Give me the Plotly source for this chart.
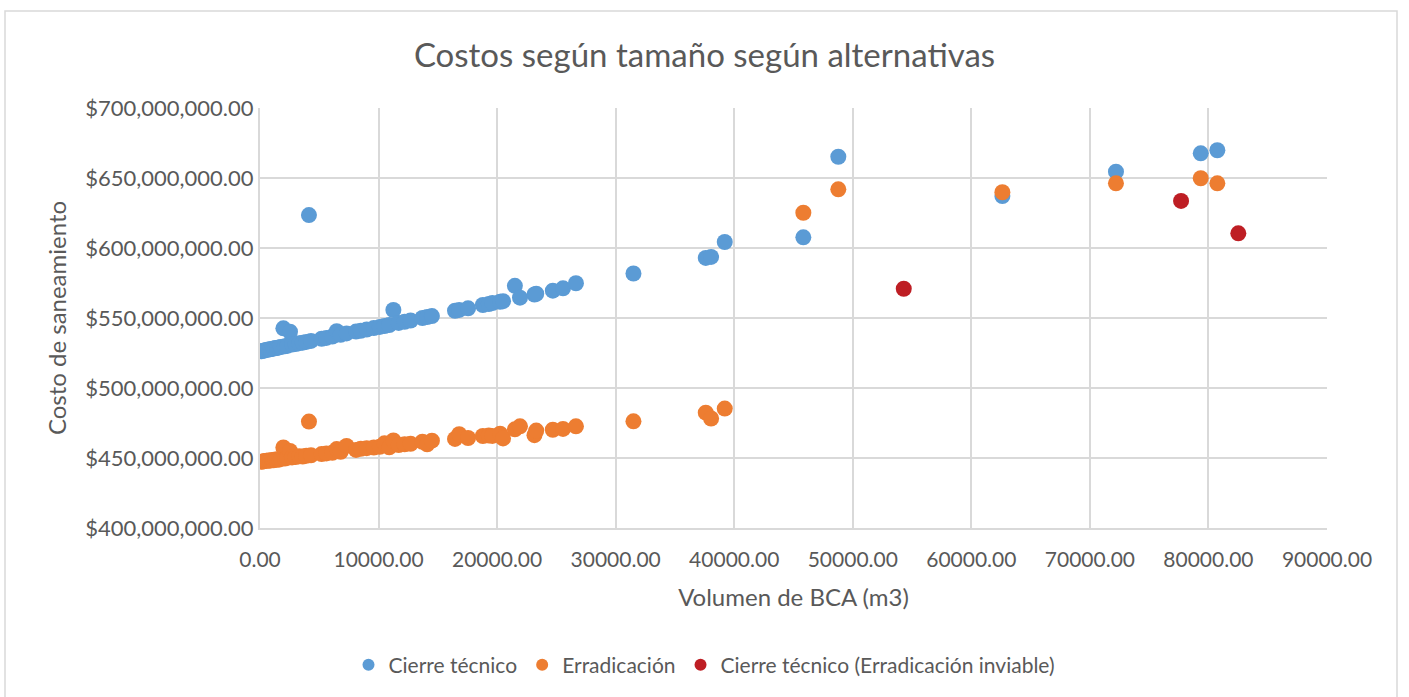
import numpy as np
import plotly.graph_objects as go

# Volumen de BCA (m3) de cada sitio
volumen = [150, 280, 420, 560, 700, 850, 1000, 1150, 1300, 1450, 1600, 1750,
           1970, 2100, 2300, 2530, 2700, 3000, 3300, 3600, 3900, 4130, 4300,
           5200, 5600, 6100, 6470, 6800, 7300, 8100, 8500, 9000, 9600, 10100,
           10500, 10900, 11250, 11700, 12200, 12700, 13700, 14100, 14500,
           16450, 16800, 17550, 18800, 19300, 19600, 20250, 20500, 21500,
           21930, 23150, 23300, 24700, 25560, 26650, 31500, 37600, 38050,
           39200, 45830, 48780, 62620, 72200, 79350, 80750]

# Costo de saneamiento, millones de $
costo_cierre = [526.3, 526.6, 527.0, 527.2, 527.5, 527.6, 527.9, 528.2, 528.5,
                528.6, 529.0, 529.3, 542.6, 529.8, 530.1, 540.2, 531.0, 531.4,
                532.0, 532.4, 532.9, 623.5, 533.6, 535.2, 535.8, 536.8, 540.6,
                538.0, 539.0, 540.3, 540.9, 541.8, 542.8, 543.6, 544.3, 545.0,
                555.7, 546.5, 547.3, 548.2, 550.0, 550.7, 551.4, 555.2, 555.8,
                556.9, 559.3, 560.0, 560.7, 561.6, 562.0, 573.0, 564.5, 566.8,
                567.3, 569.5, 571.2, 574.8, 581.8, 592.9, 593.6, 604.3, 607.6,
                665.2, 637.1, 654.5, 667.6, 669.8]

costo_erradicacion = [447.3, 447.6, 447.9, 448.0, 448.3, 448.1, 448.6, 448.4,
                      448.9, 449.0, 448.8, 449.4, 457.5, 449.6, 450.1, 455.0,
                      450.4, 450.7, 451.2, 451.0, 451.6, 476.0, 451.9, 452.8,
                      453.3, 453.7, 456.4, 454.4, 458.6, 455.8, 456.6, 457.0,
                      457.5, 458.0, 460.5, 457.6, 462.5, 459.3, 459.8, 460.2,
                      461.6, 459.8, 462.4, 463.6, 467.0, 464.3, 465.7, 466.0,
                      465.8, 467.3, 464.0, 470.5, 472.6, 466.3, 469.6, 470.2,
                      470.8, 472.6, 476.2, 482.4, 478.2, 485.3, 625.2, 641.9,
                      639.8, 646.2, 649.8, 646.2]

# Sitios donde la erradicación es inviable
volumen_inviable = [54300, 77690, 82520]
costo_inviable = [570.9, 633.6, 610.5]

FONT = "Lato"
GRIS = "#595959"
GRID = "#d9d9d9"

fig = go.Figure()
series = [
    ("Cierre técnico", volumen, costo_cierre, "#5B9BD5"),
    ("Erradicación", volumen, costo_erradicacion, "#ED7D31"),
    ("Cierre técnico (Erradicación inviable)", volumen_inviable, costo_inviable, "#BE1E24"),
]
for nombre, xs, ys, color in series:
    fig.add_trace(go.Scatter(
        x=xs, y=np.array(ys) * 1e6, mode="markers", name=nombre,
        marker=dict(size=16, color=color, line=dict(width=0)),
    ))

# Plot area in pixels: x 260-1327, y 108-528
W, H = 1409, 697
L, R, T, B = 260, 1327, 108, 528

def px_x(p):
    return (p - L) / (R - L)

def px_y(p):
    return (B - p) / (B - T)

fig.update_layout(
    width=W, height=H,
    margin=dict(l=L, r=W - R, t=T, b=H - B, autoexpand=False),
    paper_bgcolor="white", plot_bgcolor="white",
    font=dict(family=FONT, color=GRIS, size=21),
    title=dict(text="Costos según tamaño según alternativas",
               x=0.5, xref="container", xanchor="center",
               y=1 - 55 / H, yref="container", yanchor="middle",
               font=dict(size=33, color=GRIS, family=FONT)),
    xaxis=dict(range=[0, 90000], dtick=10000, tickformat=".2f",
               showgrid=True, gridcolor=GRID, gridwidth=2,
               showline=True, linecolor=GRID, linewidth=2,
               zeroline=False, ticks="outside", ticklen=12,
               tickcolor="rgba(0,0,0,0)", tickfont=dict(size=21),
               title=dict(text="Volumen de BCA (m3)", font=dict(size=24), standoff=19)),
    yaxis=dict(range=[400e6, 700e6], dtick=50e6, tickformat="$,.2f",
               showgrid=True, gridcolor=GRID, gridwidth=2,
               showline=True, linecolor=GRID, linewidth=2,
               zeroline=False, ticks="", tickfont=dict(size=22),
               title=dict(text="Costo de saneamiento", font=dict(size=24), standoff=12)),
    legend=dict(orientation="h", xref="container", yref="container",
                x=0.5, xanchor="center", y=1 - 665 / H, yanchor="middle",
                font=dict(size=21, color=GRIS), itemsizing="constant"),
    showlegend=True,
    shapes=[dict(type="rect", xref="paper", yref="paper",
                 x0=px_x(5), x1=px_x(1397), y0=px_y(720), y1=px_y(11),
                 line=dict(color=GRID, width=1.5), layer="below")],
)

fig.write_html("out.html")
